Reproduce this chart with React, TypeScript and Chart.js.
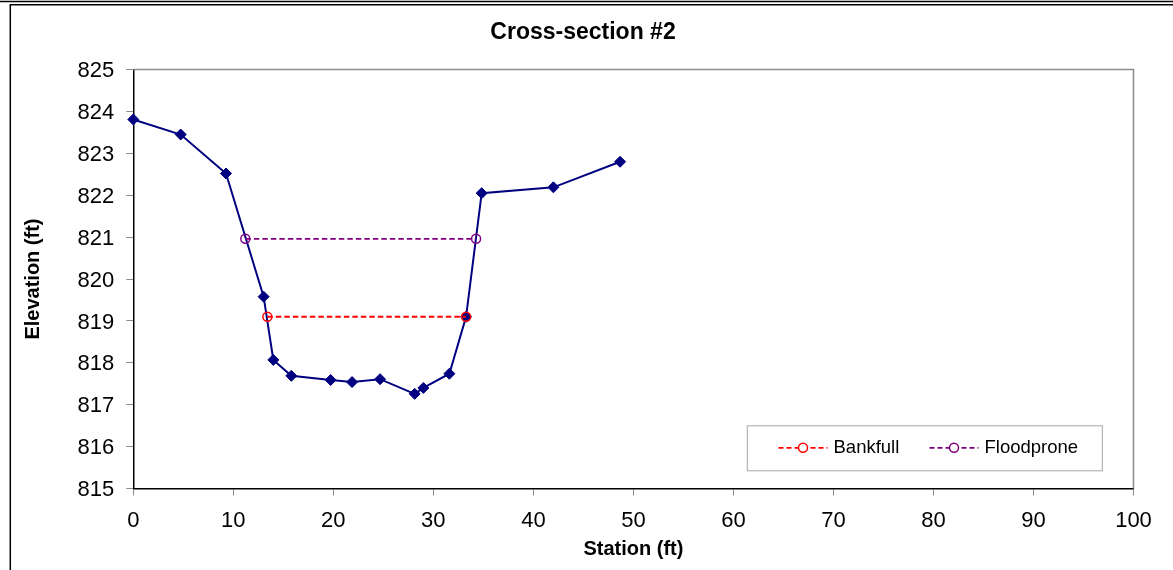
import React, { useEffect, useRef } from "react";
import { Chart, registerables } from "chart.js";

Chart.register(...registerables);

const stations = [0, 4.74, 9.27, 13.03, 14.0, 15.8, 19.73, 21.87, 24.67, 28.13, 29.0, 31.6, 33.27, 34.83, 42.0, 48.67];
const elevations = [823.81, 823.45, 822.52, 819.58, 818.07, 817.69, 817.59, 817.54, 817.61, 817.26, 817.4, 817.74, 819.1, 822.05, 822.19, 822.8];
const bankfullStations = [13.4, 33.27];
const bankfullElevations = [819.1, 819.1];
const floodproneStations = [11.2, 34.27];
const floodproneElevations = [820.96, 820.96];
const seriesLabels = ["Ground", "Bankfull", "Floodprone"];
const chartTitle = "Cross-section #2";
const xTitle = "Station (ft)";
const yTitle = "Elevation (ft)";

const FONT = '"Liberation Sans", Arial, sans-serif';

const toPoints = (xs: number[], ys: number[]) => xs.map((x, i) => ({ x, y: ys[i] }));

const framePlugin = {
  id: "frame",
  beforeDraw(chart: any) {
    const { ctx, width, height } = chart;
    ctx.save();
    ctx.fillStyle = "#ffffff";
    ctx.fillRect(0, 0, width, height);
    ctx.strokeStyle = "#000000";
    ctx.lineWidth = 1.5;
    ctx.beginPath();
    ctx.moveTo(0, 1.5);
    ctx.lineTo(width, 1.5);
    ctx.moveTo(10, 4.8);
    ctx.lineTo(width, 4.8);
    ctx.moveTo(10.3, 4);
    ctx.lineTo(10.3, height);
    ctx.stroke();
    ctx.restore();
  },
  beforeDatasetsDraw(chart: any) {
    const { ctx, chartArea } = chart;
    ctx.save();
    ctx.strokeStyle = "#8c8c8c";
    ctx.lineWidth = 1.5;
    ctx.beginPath();
    ctx.moveTo(chartArea.left, chartArea.top);
    ctx.lineTo(chartArea.right, chartArea.top);
    ctx.lineTo(chartArea.right, chartArea.bottom);
    ctx.stroke();
    ctx.restore();
  },
};

const legendPlugin = {
  id: "boxLegend",
  afterDatasetsDraw(chart: any) {
    const { ctx, chartArea } = chart;
    const boxW = 355;
    const boxH = 45;
    const left = chartArea.right - 31.7 - boxW;
    const top = chartArea.bottom - 18.2 - boxH;
    ctx.save();
    ctx.fillStyle = "#ffffff";
    ctx.fillRect(left, top, boxW, boxH);
    ctx.strokeStyle = "#a6a6a6";
    ctx.lineWidth = 1;
    ctx.strokeRect(left + 0.5, top + 0.5, boxW, boxH);
    const cy = top + boxH / 2;
    const entries = [
      { ds: chart.data.datasets[1], lx: 31.7, tx: 86.7 },
      { ds: chart.data.datasets[2], lx: 182.7, tx: 237.7 },
    ];
    entries.forEach(({ ds, lx, tx }) => {
      const x0 = left + lx;
      ctx.strokeStyle = ds.borderColor;
      ctx.lineWidth = 1.7;
      ctx.setLineDash([5, 3]);
      ctx.beginPath();
      ctx.moveTo(x0, cy);
      ctx.lineTo(x0 + 49, cy);
      ctx.stroke();
      ctx.setLineDash([]);
      ctx.lineWidth = 1.5;
      ctx.beginPath();
      ctx.arc(x0 + 24.5, cy, 4.5, 0, Math.PI * 2);
      ctx.fillStyle = "#ffffff";
      ctx.fill();
      ctx.stroke();
      ctx.fillStyle = "#000000";
      ctx.font = `18.5px ${FONT}`;
      ctx.textBaseline = "middle";
      ctx.textAlign = "left";
      ctx.fillText(ds.label, left + tx, cy);
    });
    ctx.restore();
  },
};

export default function App() {
  const canvasRef = useRef<HTMLCanvasElement | null>(null);

  useEffect(() => {
    document.body.style.margin = "0";
    const canvas = canvasRef.current;
    if (!canvas) return;
    Chart.defaults.font.family = FONT;
    const chart = new Chart(canvas, {
      type: "scatter",
      data: {
        datasets: [
          {
            label: seriesLabels[0],
            data: toPoints(stations, elevations),
            showLine: true,
            borderColor: "#000080",
            backgroundColor: "#000080",
            borderWidth: 2,
            pointStyle: "rectRot",
            pointRadius: 5.5,
            pointBorderWidth: 1,
            clip: false,
            order: 3,
          },
          {
            label: seriesLabels[1],
            data: toPoints(bankfullStations, bankfullElevations),
            showLine: true,
            borderColor: "#ff0000",
            backgroundColor: "rgba(0,0,0,0)",
            borderWidth: 1.8,
            borderDash: [5.5, 3],
            pointStyle: "circle",
            pointRadius: 4.5,
            pointBorderWidth: 1.5,
            clip: false,
            order: 1,
          },
          {
            label: seriesLabels[2],
            data: toPoints(floodproneStations, floodproneElevations),
            showLine: true,
            borderColor: "#800080",
            backgroundColor: "rgba(0,0,0,0)",
            borderWidth: 1.8,
            borderDash: [5.5, 3],
            pointStyle: "circle",
            pointRadius: 4.5,
            pointBorderWidth: 1.5,
            clip: false,
            order: 2,
          },
        ],
      },
      options: {
        responsive: false,
        animation: false,
        devicePixelRatio: 1,
        layout: { padding: { left: 32.5, right: 39.5, top: 0, bottom: 0 } },
        plugins: {
          legend: { display: false },
          tooltip: { enabled: false },
          title: {
            display: true,
            text: chartTitle,
            color: "#000000",
            font: { family: FONT, size: 23, weight: "bold", lineHeight: 1.2 },
            padding: { top: 19, bottom: 23 },
          },
        },
        scales: {
          x: {
            type: "linear",
            min: 0,
            max: 100,
            ticks: {
              stepSize: 10,
              autoSkip: false,
              maxRotation: 0,
              color: "#000000",
              padding: 12,
              font: { family: FONT, size: 22 },
            },
            grid: {
              display: true,
              drawOnChartArea: false,
              drawTicks: true,
              tickLength: 7,
              color: "#8c8c8c",
              lineWidth: 1,
            },
            border: { display: true, color: "#000000", width: 1.5 },
            title: {
              display: true,
              text: xTitle,
              color: "#000000",
              font: { family: FONT, size: 20, weight: "bold", lineHeight: 1.2 },
              padding: { top: 0, bottom: 9 },
            },
            afterFit: (s: any) => {
              s.height = 81.5;
            },
          },
          y: {
            type: "linear",
            min: 815,
            max: 825,
            ticks: {
              stepSize: 1,
              color: "#000000",
              padding: 12,
              labelOffset: 1.5,
              font: { family: FONT, size: 22 },
            },
            grid: {
              display: true,
              drawOnChartArea: false,
              drawTicks: true,
              tickLength: 7,
              color: "#8c8c8c",
              lineWidth: 1,
            },
            border: { display: true, color: "#000000", width: 1.5 },
            title: {
              display: true,
              text: yTitle,
              color: "#000000",
              font: { family: FONT, size: 20, weight: "bold", lineHeight: 1.2 },
              padding: { top: -11.2, bottom: 0 },
            },
            afterFit: (s: any) => {
              s.width = 100.8;
            },
          },
        },
      },
      plugins: [framePlugin, legendPlugin],
    } as any);
    return () => chart.destroy();
  }, []);

  return (
    <div style={{ position: "absolute", left: 0, top: 0, width: 1173, height: 570 }}>
      <canvas ref={canvasRef} width={1173} height={570} />
    </div>
  );
}
